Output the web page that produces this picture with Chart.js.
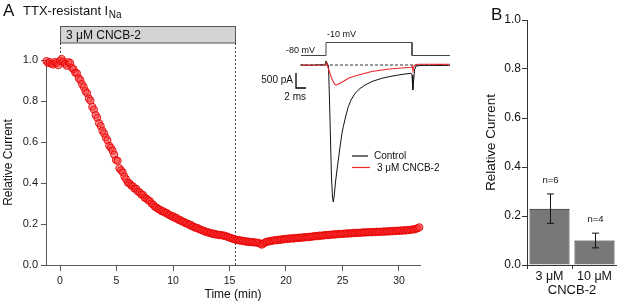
<!DOCTYPE html>
<html><head><meta charset="utf-8">
<script src="https://cdn.jsdelivr.net/npm/chart.js@4.4.1/dist/chart.umd.min.js"></script>
<style>
html,body{margin:0;padding:0;background:#fff;}
#wrap{position:relative;width:617px;height:303px;overflow:hidden;background:#fff;}
canvas{position:absolute;left:0;top:0;}
</style></head><body>
<div id="wrap">
<canvas id="main" width="617" height="303"></canvas>
<canvas id="inset" width="617" height="303"></canvas>
<canvas id="bars" width="617" height="303"></canvas>
</div>
<script>
const FONT = '"Liberation Sans", Arial, Helvetica, sans-serif';

// ---- Panel A: time course ----
const timeMin = [-1.2,-1.05,-0.9,-0.75,-0.6,-0.45,-0.3,-0.15,0,0.15,0.3,0.45,0.6,0.75,0.9,1.05,1.2,1.35,1.5,1.65,1.8,
1.95,2.1,2.25,2.4,2.55,2.7,2.85,3,3.15,3.3,3.45,3.6,3.75,3.9,4.05,4.2,4.35,4.5,4.65,4.8,4.95,
5.1,5.25,5.4,5.55,5.7,5.85,6,6.15,6.3,6.45,6.6,6.75,6.9,7.05,7.2,7.35,7.5,7.65,7.8,7.95,8.1,
8.25,8.4,8.55,8.7,8.85,9,9.15,9.3,9.45,9.6,9.75,9.9,10.05,10.2,10.35,10.5,10.65,10.8,10.95,11.1,11.25,
11.4,11.55,11.7,11.85,12,12.15,12.3,12.45,12.6,12.75,12.9,13.05,13.2,13.35,13.5,13.65,13.8,13.95,14.1,14.25,14.4,
14.55,14.7,14.85,15,15.15,15.3,15.45,15.6,15.75,15.9,16.05,16.2,16.35,16.5,16.65,16.8,16.95,17.1,17.25,17.4,17.55,
17.7,17.85,18,18.15,18.3,18.45,18.6,18.75,18.9,19.05,19.2,19.35,19.5,19.65,19.8,19.95,20.1,20.25,20.4,20.55,20.7,
20.85,21,21.15,21.3,21.45,21.6,21.75,21.9,22.05,22.2,22.35,22.5,22.65,22.8,22.95,23.1,23.25,23.4,23.55,23.7,23.85,
24,24.15,24.3,24.45,24.6,24.75,24.9,25.05,25.2,25.35,25.5,25.65,25.8,25.95,26.1,26.25,26.4,26.55,26.7,26.85,27,
27.15,27.3,27.45,27.6,27.75,27.9,28.05,28.2,28.35,28.5,28.65,28.8,28.95,29.1,29.25,29.4,29.55,29.7,29.85,30,30.15,
30.3,30.45,30.6,30.75,30.9,31.05,31.2,31.35,31.5,31.65,31.8];
const relCurrent = [0.995,0.985,0.99,0.982,0.978,0.99,0.985,0.975,0.996,1.005,0.992,0.982,0.972,0.99,0.985,0.962,0.955,0.938,0.935,0.912,0.902,
0.882,0.868,0.848,0.838,0.812,0.802,0.772,0.758,0.732,0.718,0.692,0.678,0.655,0.642,0.622,0.608,0.582,0.572,0.558,0.538,0.512,
0.508,0.472,0.462,0.452,0.432,0.418,0.402,0.398,0.388,0.384,0.372,0.372,0.358,0.354,0.343,0.342,0.328,0.324,0.316,0.312,0.3,
0.294,0.284,0.28,0.273,0.27,0.262,0.262,0.255,0.254,0.246,0.243,0.236,0.237,0.228,0.229,0.22,0.219,0.212,0.211,0.204,0.203,
0.196,0.197,0.188,0.187,0.181,0.181,0.175,0.173,0.168,0.167,0.161,0.161,0.156,0.157,0.151,0.153,0.148,0.149,0.145,0.147,0.143,
0.144,0.139,0.138,0.133,0.132,0.127,0.126,0.122,0.123,0.119,0.12,0.116,0.117,0.113,0.115,0.111,0.113,0.11,0.111,0.108,0.109,
0.104,0.099,0.104,0.111,0.112,0.116,0.115,0.119,0.119,0.122,0.12,0.124,0.122,0.126,0.125,0.128,0.126,0.13,0.128,0.131,0.129,
0.132,0.131,0.134,0.132,0.135,0.134,0.137,0.135,0.138,0.137,0.14,0.139,0.142,0.14,0.144,0.142,0.145,0.144,0.147,0.145,0.148,
0.147,0.15,0.148,0.151,0.15,0.152,0.151,0.153,0.152,0.155,0.153,0.155,0.154,0.157,0.155,0.158,0.156,0.158,0.157,0.16,0.158,
0.16,0.159,0.161,0.159,0.162,0.16,0.163,0.161,0.163,0.162,0.164,0.162,0.165,0.163,0.166,0.164,0.167,0.165,0.168,0.166,0.169,
0.167,0.17,0.168,0.171,0.17,0.172,0.174,0.173,0.177,0.179,0.184];
const timeTicks = [0,5,10,15,20,25,30];
const relTicks = [0,0.2,0.4,0.6,0.8,1.0];
const drugLabel = '3 \u03bcM CNCB-2';
const drugStart = 0;
const drugEnd = 15.5;

// ---- Inset: example currents (ms, pA) and voltage protocol (mV) ----
const traceTimeCtrl = [-5,-3.2,-1.2,-0.2,0,0.2,0.5,0.7,0.9,1.1,1.3,1.46,1.64,1.9,2.2,2.46,2.8,3.2,3.46,4,4.46,5,5.8,6.8,7.8,9.2,11.14,12.8,14.46,15.8,17,17.2,17.36,17.5,17.7,18,18.8,20.8,22.8,24.8];
const traceCtrl = [0,-10,7,0,133,67,-33,-1167,-2500,-3767,-4400,-4567,-4367,-3900,-3500,-3167,-2733,-2267,-2057,-1667,-1390,-1167,-943,-783,-667,-550,-443,-383,-333,-300,-277,-333,-833,-567,-167,-33,-17,-10,-17,-7];
const traceTimeDrug = [-5,-2.2,-0.2,0.1,0.3,0.5,0.8,1.1,1.46,1.8,2,2.3,2.8,3.6,4.46,5.8,7.8,9.2,11.14,12.8,14.46,15.8,17.1,17.26,17.4,17.6,18,18.8,20.8,22.8,24.8];
const traceDrug = [0,-7,0,67,-33,-133,-277,-433,-557,-650,-667,-650,-610,-533,-443,-367,-277,-217,-167,-133,-110,-93,-77,-33,-200,-33,17,23,27,20,23];
const protoTime = [-5,0,0,17.2,17.2,24.8];
const protoMv = [-80,-80,-10,-10,-80,-80];
const baselineTime = [-5.2,24.8];
const baselineCurrent = [0,0];
const scaleBarTime = [-6,-6,-4];       // 2 ms
const scaleBarCurrent = [-267,-767,-767]; // 500 pA
const legendLabels = ['Control','3 \u03bcM CNCB-2'];

// ---- Panel B: summary bars ----
const barCategories = ['3 \u03bcM','10 \u03bcM'];
const barMeans = [0.23,0.10];
const barErrors = [0.06,0.03];
const barN = ['n=6','n=4'];
const barTicks = [0,0.2,0.4,0.6,0.8,1.0];

const zip = (xs, ys) => xs.map((v, i) => ({x: v, y: ys[i]}));
Chart.defaults.font.family = FONT;
Chart.defaults.color = '#1a1a1a';

const mainDeco = {
  id: 'mainDeco',
  beforeDatasetsDraw(chart) {
    const {ctx, scales: {x, y}} = chart;
    const x0 = Math.round(x.getPixelForValue(drugStart)) + 0.5;
    const x1 = Math.round(x.getPixelForValue(drugEnd)) + 0.5;
    ctx.save();
    ctx.fillStyle = '#d4d4d4'; ctx.strokeStyle = '#555'; ctx.lineWidth = 1;
    ctx.fillRect(x0, 26.5, x1 - x0, 16.5);
    ctx.strokeRect(x0, 26.5, x1 - x0, 16.5);
    ctx.setLineDash([2, 2]); ctx.strokeStyle = '#444';
    ctx.beginPath();
    ctx.moveTo(x0, 43); ctx.lineTo(x0, y.getPixelForValue(1.02));
    ctx.moveTo(x1, 43); ctx.lineTo(x1, y.getPixelForValue(0));
    ctx.stroke();
    ctx.setLineDash([]);
    ctx.fillStyle = '#111'; ctx.font = '12px ' + FONT; ctx.textBaseline = 'alphabetic'; ctx.textAlign = 'left';
    ctx.fillText(drugLabel, x0 + 5.5, 38.5);
    ctx.restore();
  },
  afterDraw(chart) {
    const ctx = chart.ctx;
    ctx.save();
    ctx.fillStyle = '#111'; ctx.textBaseline = 'alphabetic'; ctx.textAlign = 'left';
    ctx.font = '17px ' + FONT; ctx.fillText('A', 3, 15.5);
    ctx.font = '13px ' + FONT; ctx.fillText('TTX-resistant I', 23, 15);
    const w = ctx.measureText('TTX-resistant I').width;
    ctx.font = '10px ' + FONT; ctx.fillText('Na', 23 + w + 0.5, 17.5);
    ctx.font = '17px ' + FONT; ctx.fillText('B', 491, 19.5);
    ctx.restore();
  }
};

new Chart(document.getElementById('main'), {
  type: 'scatter',
  data: { datasets: [{
    data: zip(timeMin, relCurrent),
    pointRadius: 3.6, pointBorderWidth: 1,
    pointBackgroundColor: 'rgba(255,50,50,0.5)', pointBorderColor: 'rgba(228,0,0,0.85)',
    clip: false
  }]},
  options: {
    responsive: false, animation: false, devicePixelRatio: 1,
    layout: { padding: { left: 0, top: 60, right: 197, bottom: 0 } },
    plugins: { legend: { display: false }, tooltip: { enabled: false } },
    scales: {
      x: {
        type: 'linear', position: 'bottom', min: -1.24, max: 31.86,
        afterBuildTicks: s => { s.ticks = timeTicks.map(v => ({ value: v })); },
        afterFit: s => { s.height = 38; },
        grid: { drawOnChartArea: false, drawTicks: true, tickLength: 6, color: '#5a5a5a' },
        border: { color: '#5a5a5a', width: 1 },
        ticks: { padding: 4, color: '#1a1a1a', font: { size: 10.5 }, callback: v => String(v) },
        title: { display: true, text: 'Time (min)', color: '#111', font: { size: 12 }, padding: { top: 0, bottom: 1 } }
      },
      y: {
        type: 'linear', min: 0, max: 1,
        afterBuildTicks: s => { s.ticks = relTicks.map(v => ({ value: v })); },
        afterFit: s => { s.width = 46; },
        grid: { drawOnChartArea: false, drawTicks: true, tickLength: 5, color: '#5a5a5a' },
        border: { color: '#5a5a5a', width: 1 },
        ticks: { padding: 3, color: '#1a1a1a', font: { size: 11 }, callback: v => Number(v).toFixed(1) },
        title: { display: true, text: 'Relative Current', color: '#111', font: { size: 12 }, padding: { top: 1.3, bottom: 0 } }
      }
    }
  },
  plugins: [mainDeco]
});

const insetDeco = {
  id: 'insetDeco',
  afterDraw(chart) {
    const ctx = chart.ctx;
    ctx.save();
    ctx.fillStyle = '#111'; ctx.textBaseline = 'alphabetic';
    ctx.font = '9px ' + FONT;
    ctx.textAlign = 'left'; ctx.fillText('-10 mV', 327, 36.5);
    ctx.textAlign = 'right'; ctx.fillText('-80 mV', 315, 53);
    ctx.font = '10px ' + FONT;
    ctx.fillText('500 pA', 293, 83);
    ctx.fillText('2 ms', 306, 100);
    // legend
    ctx.lineWidth = 1.2;
    ctx.strokeStyle = '#111';
    ctx.beginPath(); ctx.moveTo(352, 156); ctx.lineTo(368, 156); ctx.stroke();
    ctx.strokeStyle = '#e8262b';
    ctx.beginPath(); ctx.moveTo(352, 167.5); ctx.lineTo(370, 167.5); ctx.stroke();
    ctx.textAlign = 'left';
    ctx.fillText(legendLabels[0], 374, 159);
    ctx.fillText(legendLabels[1], 377, 171);
    ctx.restore();
  }
};

new Chart(document.getElementById('inset'), {
  type: 'line',
  data: { datasets: [
    { data: zip(traceTimeDrug, traceDrug), borderColor: '#e8262b', borderWidth: 1.1, pointRadius: 0, tension: 0, yAxisID: 'y' },
    { data: zip(traceTimeCtrl, traceCtrl), borderColor: '#111', borderWidth: 1, pointRadius: 0, tension: 0, yAxisID: 'y' },
    { data: zip(baselineTime, baselineCurrent), borderColor: '#333', borderDash: [3, 2], borderWidth: 1, pointRadius: 0, yAxisID: 'y' },
    { data: zip(protoTime, protoMv), borderColor: '#444', borderWidth: 1, pointRadius: 0, tension: 0, yAxisID: 'yV' },
    { data: zip(scaleBarTime, scaleBarCurrent), borderColor: '#000', borderWidth: 1.3, pointRadius: 0, tension: 0, yAxisID: 'y' }
  ]},
  options: {
    responsive: false, animation: false, devicePixelRatio: 1,
    layout: { padding: { left: 290, top: 30, right: 162, bottom: 93 } },
    plugins: { legend: { display: false }, tooltip: { enabled: false } },
    scales: {
      x: { type: 'linear', display: false, min: -7.2, max: 25.8 },
      y: { type: 'linear', display: false, min: -4833, max: 1167 },
      yV: { type: 'linear', display: false, min: -912, max: 57.3 }
    }
  },
  plugins: [insetDeco]
});

const barDeco = {
  id: 'barDeco',
  afterDatasetsDraw(chart) {
    const {ctx, scales: {x, y}} = chart;
    ctx.save();
    ctx.strokeStyle = '#111'; ctx.lineWidth = 1;
    ctx.fillStyle = '#111'; ctx.font = '9.5px ' + FONT; ctx.textAlign = 'center'; ctx.textBaseline = 'alphabetic';
    barMeans.forEach((m, i) => {
      const cx = Math.round(x.getPixelForValue(i)) + 0.5;
      const yt = y.getPixelForValue(m + barErrors[i]);
      const yb = y.getPixelForValue(m - barErrors[i]);
      ctx.beginPath();
      ctx.moveTo(cx, yt); ctx.lineTo(cx, yb);
      ctx.moveTo(cx - 3.5, yt); ctx.lineTo(cx + 3.5, yt);
      ctx.moveTo(cx - 3.5, yb); ctx.lineTo(cx + 3.5, yb);
      ctx.stroke();
      ctx.fillText(barN[i], cx, yt - 11);
    });
    ctx.restore();
  }
};

new Chart(document.getElementById('bars'), {
  type: 'bar',
  data: { labels: barCategories, datasets: [{
    data: barMeans, backgroundColor: '#787878', borderColor: '#111', borderWidth: 1,
    barPercentage: 0.89, categoryPercentage: 1
  }]},
  options: {
    responsive: false, animation: false, devicePixelRatio: 1,
    layout: { padding: { left: 470, top: 20, right: 0, bottom: 0 } },
    plugins: { legend: { display: false }, tooltip: { enabled: false } },
    scales: {
      x: {
        afterFit: s => { s.height = 38; },
        grid: { offset: true, drawOnChartArea: false, drawTicks: true, tickLength: 4, color: '#333' },
        border: { color: '#333', width: 1 },
        ticks: { padding: 0, color: '#111', font: { size: 12.5 } },
        title: { display: true, text: 'CNCB-2', color: '#111', font: { size: 13 }, padding: { top: 0, bottom: 5 } }
      },
      y: {
        type: 'linear', min: 0, max: 1,
        afterBuildTicks: s => { s.ticks = barTicks.map(v => ({ value: v })); },
        afterFit: s => { s.width = 57; },
        grid: { drawOnChartArea: false, drawTicks: true, tickLength: 5, color: '#333' },
        border: { color: '#333', width: 1 },
        ticks: { padding: 1, color: '#111', font: { size: 12 }, callback: v => Number(v).toFixed(1) },
        title: { display: true, text: 'Relative Current', color: '#111', font: { size: 13.4 }, padding: { top: 13.5, bottom: 0 } }
      }
    }
  },
  plugins: [barDeco]
});
</script>
</body></html>
